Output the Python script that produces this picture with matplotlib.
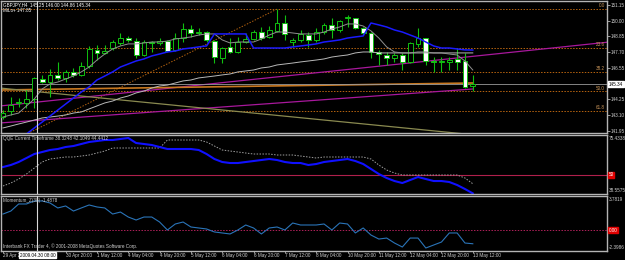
import numpy as np
import matplotlib
matplotlib.use('Agg')
from matplotlib import pyplot as plt
from matplotlib import font_manager
import matplotlib.transforms as mtransforms

# ---------------- data: GBPJPY H4, 61 bars ----------------
opens = [142.95, 143.39, 143.98, 143.98, 144.27, 145.73, 145.51, 146.03, 145.81, 146.24,
         146.03, 146.68, 147.86, 147.64, 148.00, 148.37, 148.73, 148.51, 147.49, 148.44,
         148.37, 148.51, 147.86, 148.73, 149.39, 149.10, 149.17, 148.51, 147.27, 148.08,
         147.71, 148.44, 148.66, 149.17, 148.81, 149.25, 149.83, 148.44, 148.59, 148.95,
         148.59, 149.17, 149.69, 149.32, 150.20, 150.20, 149.47, 149.10, 147.71, 147.49,
         147.27, 147.49, 146.98, 148.30, 148.73, 147.05, 146.98, 146.98, 147.20, 147.05, 145.25]
highs = [143.46, 144.42, 144.34, 144.93, 145.88, 146.03, 146.46, 146.98, 146.39, 146.54,
         146.98, 148.15, 148.22, 148.22, 148.59, 149.10, 148.88, 148.73, 148.59, 148.51,
         148.73, 148.59, 149.10, 149.83, 149.69, 149.47, 149.25, 148.59, 148.08, 148.73,
         148.81, 149.10, 149.32, 149.54, 149.61, 150.85, 150.42, 148.73, 149.32, 149.17,
         149.47, 149.83, 150.20, 150.05, 150.42, 150.20, 149.54, 149.17, 147.86, 147.71,
         147.64, 147.64, 148.44, 149.47, 148.73, 147.34, 147.34, 147.34, 148.00, 147.64, 146.00]
lows = [142.80, 143.10, 143.68, 143.61, 143.61, 145.44, 144.42, 145.66, 145.51, 145.88,
        145.95, 146.54, 147.12, 147.56, 147.86, 148.22, 148.44, 147.27, 147.42, 147.71,
        148.22, 147.71, 147.78, 148.44, 148.81, 148.95, 148.44, 146.90, 146.90, 147.64,
        147.64, 148.37, 148.59, 148.59, 148.73, 149.17, 148.59, 148.08, 148.44, 148.08,
        148.44, 149.03, 148.73, 149.17, 149.54, 149.39, 148.95, 147.27, 146.76, 146.76,
        146.98, 146.39, 146.90, 148.08, 146.76, 146.24, 146.24, 146.39, 146.39, 145.07, 144.86]
closes = [143.24, 143.83, 144.05, 144.27, 145.81, 145.51, 146.03, 145.81, 146.24, 146.03,
          146.68, 147.93, 147.64, 147.78, 148.44, 148.73, 148.59, 147.49, 148.44, 148.37,
          148.51, 147.78, 148.73, 149.39, 149.10, 149.17, 148.59, 147.34, 148.00, 147.71,
          148.44, 148.66, 149.17, 148.73, 149.32, 149.83, 149.03, 148.59, 149.03, 148.59,
          149.17, 149.69, 149.32, 149.98, 150.27, 149.47, 149.10, 147.71, 147.56, 147.27,
          147.49, 146.98, 148.37, 148.73, 147.05, 146.98, 147.05, 147.12, 146.98, 145.15, 145.34]

milo_line = [140.39, 140.83, 141.27, 141.71, 142.15, 142.58, 143.02, 143.46, 143.90, 144.34,
             144.78, 145.15, 145.66, 145.95, 146.25, 146.61, 146.83, 147.05, 147.20, 147.42,
             147.56, 147.71, 147.78, 147.93, 148.00, 148.08, 148.15, 149.03, 149.03, 149.03,
             149.03, 149.03, 148.00, 148.00, 148.00, 148.00, 148.00, 148.08, 148.15, 148.22,
             148.30, 148.44, 148.51, 148.59, 148.73, 148.81, 148.88, 149.83, 149.69, 149.54,
             149.32, 149.17, 148.95, 148.73, 148.44, 148.15, 148.00, 148.00, 147.93, 147.86, 147.85]
ma_fast = [142.95, 143.10, 143.24, 143.76, 144.27, 145.00, 145.37, 145.51, 145.73, 145.95,
           146.25, 146.61, 147.12, 147.56, 147.93, 148.15, 148.30, 148.30, 148.37, 148.44,
           148.44, 148.51, 148.66, 148.73, 148.81, 148.95, 149.03, 149.03, 148.59, 148.37,
           148.44, 148.44, 148.44, 148.66, 148.95, 149.17, 149.17, 149.10, 149.03, 149.03,
           149.03, 149.17, 149.39, 149.54, 149.76, 149.76, 149.61, 149.25, 148.73, 148.08,
           147.71, 147.64, 147.64, 147.71, 147.71, 147.64, 147.64, 147.56, 147.49, 147.05, 146.39]
ma_slow = [142.15, 142.29, 142.44, 142.58, 142.73, 142.88, 142.95, 143.02, 143.10, 143.24,
           143.32, 143.54, 143.76, 143.98, 144.12, 144.34, 144.49, 144.71, 144.85, 145.07,
           145.22, 145.29, 145.44, 145.59, 145.66, 145.81, 145.88, 145.95, 146.03, 146.10,
           146.25, 146.32, 146.39, 146.54, 146.61, 146.76, 146.83, 146.90, 146.98, 147.05,
           147.12, 147.20, 147.34, 147.42, 147.49, 147.64, 147.71, 147.71, 147.64, 147.64,
           147.64, 147.64, 147.64, 147.64, 147.64, 147.64, 147.64, 147.64, 147.64, 147.64, 147.64]

qqe_fast = [55.08, 56.35, 58.26, 60.80, 63.35, 64.62, 65.89, 66.53, 67.80, 68.43,
            69.71, 70.98, 71.61, 72.25, 72.25, 72.89, 73.52, 70.34, 69.71, 69.07,
            67.80, 66.53, 66.53, 66.53, 66.53, 65.89, 63.35, 60.17, 58.26, 57.62,
            57.62, 58.26, 58.89, 59.53, 60.17, 59.53, 58.26, 57.62, 57.62, 56.35,
            56.99, 58.26, 58.89, 59.53, 60.17, 58.89, 56.99, 53.81, 50.63, 48.08,
            46.17, 44.90, 46.81, 48.72, 47.45, 46.17, 46.17, 45.54, 43.63, 41.09, 38.32]
qqe_slow = [43.02, 44.90, 47.45, 50.63, 54.44, 58.26, 60.17, 60.80, 61.44, 61.44,
            62.07, 62.71, 63.98, 65.25, 67.16, 67.16, 67.16, 67.16, 67.16, 67.16,
            67.16, 72.25, 72.25, 72.25, 72.25, 72.25, 70.98, 68.43, 65.89, 65.25,
            64.62, 63.98, 63.35, 63.35, 63.35, 62.71, 62.71, 62.71, 62.07, 61.44,
            60.80, 61.44, 61.44, 61.44, 61.44, 61.44, 61.44, 60.17, 56.35, 53.17,
            51.26, 49.99, 49.99, 49.99, 49.99, 49.99, 49.99, 49.99, 49.99, 48.08, 44.44]
momentum = [1.79, 2.12, 2.90, 2.90, 3.23, 3.23, 3.01, 2.46, 2.68, 2.12,
            2.46, 2.79, 2.57, 2.46, 1.79, 2.01, 1.46, 1.13, 1.46, 1.46,
            0.91, 0.03, 0.69, 0.91, 0.36, 0.25, 0.14, -0.19, -0.30, -0.41,
            0.03, 0.58, 0.25, -0.41, 0.25, 0.36, 0.03, 0.80, 0.58, 0.58,
            0.58, 0.69, 0.03, 0.80, 0.69, -0.30, 0.25, -0.53, -0.97, -0.86,
            -1.41, -1.85, -0.86, -0.86, -1.96, -1.63, -1.30, -0.30, -0.30, -1.41, -1.49]

# bar 4 label sits under the crosshair date box, so it is left blank
time_ticks = list(range(0, 61, 4))
time_labels = ['29 Apr 2009', '', '30 Apr 20:00', '1 May 12:00', '4 May 04:00',
               '4 May 20:00', '5 May 12:00', '6 May 04:00', '6 May 20:00', '7 May 12:00',
               '8 May 04:00', '10 May 20:00', '11 May 12:00', '12 May 04:00', '12 May 20:00',
               '13 May 12:00']
price_ticks = [151.15, 150.00, 148.85, 147.70, 146.55, 144.25, 143.10, 141.95]
last_price = 145.34

fib_levels = [0.0, 23.6, 38.2, 50.0, 61.8]
fib_high = 150.85
fib_low = 138.83
fib_bars = [-7, 35]

# trend lines drawn on the chart: anchor bars, anchor prices
tl_magenta_up = ([0, 60], [143.78, 147.39])
tl_magenta_lo = ([0, 60], [142.53, 145.00])
tl_orange = ([0, 60], [144.93, 145.44])
tl_olive = ([0, 56], [145.05, 141.88])

crosshair_bar = 4.4

# ---------------- style ----------------
names = {f.name for f in font_manager.fontManager.ttflist}
FONT = 'Liberation Sans Narrow' if 'Liberation Sans Narrow' in names else 'Liberation Sans'
plt.rcParams['font.family'] = [FONT, 'DejaVu Sans']
FS = 3.3
GRID = '#b4b4b4'
TXT = '#d0d0d0'
GREEN = '#10c010'

W, H = 625, 260
fig = plt.figure(figsize=(W / 100, H / 100), dpi=100, facecolor='black')


def pane(top, bottom):
    ax = fig.add_axes([1 / W, 1 - bottom / H, 606 / W, (bottom - top) / H])
    ax.set_facecolor('black')
    for s in ax.spines.values():
        s.set_color(GRID)
        s.set_linewidth(1.0)
    ax.set_xlim(-0.255, 77.14)
    ax.set_xticks([])
    ax.set_yticks([])
    return ax


def line_at(anchor, x):
    bx, py = anchor
    k = (py[1] - py[0]) / (bx[1] - bx[0])
    return [py[0] + k * (xx - bx[0]) for xx in x]


bars = np.arange(len(opens))
ax = pane(1, 133)
ax_q = pane(135, 194)
ax_m = pane(196, 251)
ax.set_ylim(141.78, 151.44)
ax_q.set_ylim(37.92, 75.43)
ax_m.set_ylim(-2.29, 3.78)

# fibonacci levels
rng = fib_high - fib_low
for lv in fib_levels:
    p = fib_high - rng * lv / 100
    ax.axhline(p, color='#b8640f', lw=0.7, ls=(0, (1.5, 1.5)), zorder=1)
    ax.text(76.9, p + 0.05, '%.1f' % lv, color='#c8955a', fontsize=FS, ha='right', va='bottom')
ax.plot(fib_bars, [fib_low, fib_high], color='#b0600f', lw=0.7, ls=(0, (1.5, 1.5)), zorder=1)

# trend lines
xs_full = [-1, 78]
ax.plot(xs_full, line_at(tl_magenta_up, xs_full), color='#a8189c', lw=0.9, zorder=2)
xs_seg = [-1, 60]
ax.plot(xs_seg, line_at(tl_magenta_lo, xs_seg), color='#a8189c', lw=0.9, zorder=2)
ax.plot(xs_seg, line_at(tl_orange, xs_seg), color='#c87820', lw=1.2, zorder=2)
ax.plot(xs_full, line_at(tl_olive, xs_full), color='#8a8a50', lw=0.9, zorder=2)
ax.axhline(last_price, color='#9a9a9a', lw=0.6, zorder=2)

# candles
o = np.array(opens)
c = np.array(closes)
ax.vlines(bars, lows, highs, color=GREEN, lw=0.8, zorder=3)
bull = c >= o
ax.bar(bars[bull], c[bull] - o[bull], bottom=o[bull], width=0.62,
       color='black', edgecolor=GREEN, linewidth=0.7, zorder=4)
ax.bar(bars[~bull], c[~bull] - o[~bull], bottom=o[~bull], width=0.62,
       color='white', edgecolor=GREEN, linewidth=0.7, zorder=4)

# indicators
ax.plot(bars, ma_slow, color='#b8b8b8', lw=0.7, zorder=5)
ax.plot(bars, ma_fast, color='#909090', lw=0.7, zorder=5)
ax.plot(bars, milo_line, color='#1a1aff', lw=1.1, zorder=5)

# price axis
ax.yaxis.tick_right()
ax.set_yticks(price_ticks)
ax.set_yticklabels(['%.2f' % v for v in price_ticks])
ax.tick_params(axis='y', length=2, width=0.6, color=GRID, labelcolor=TXT, labelsize=FS, pad=0.8)
ax.text(1.003, last_price, '%.2f' % last_price,
        transform=mtransforms.blended_transform_factory(ax.transAxes, ax.transData),
        fontsize=FS, color='black', ha='left', va='center',
        bbox=dict(boxstyle='square,pad=0.12', fc='white', ec='white'), clip_on=False, zorder=10)

# QQE
ax_q.axhline(50, color='#b0204c', lw=0.8)
ax_q.plot(bars, qqe_slow, color='#a0a0a0', lw=0.7, ls=(0, (1.5, 1.5)))
ax_q.plot(bars, qqe_fast, color='#1010ff', lw=1.5)
ax_q.text(1.003, 50, '50', transform=mtransforms.blended_transform_factory(ax_q.transAxes, ax_q.transData),
          fontsize=FS, color='white', ha='left', va='center',
          bbox=dict(boxstyle='square,pad=0.12', fc='#e00000', ec='#e00000'), clip_on=False)

# Momentum
ax_m.axhline(0, color='#b0205a', lw=0.7, ls=(0, (1.5, 1.5)))
ax_m.plot(bars, momentum, color='#2a74b8', lw=0.8)
ax_m.text(1.003, 0, '0.00', transform=mtransforms.blended_transform_factory(ax_m.transAxes, ax_m.transData),
          fontsize=FS, color='white', ha='left', va='center',
          bbox=dict(boxstyle='square,pad=0.12', fc='#e00000', ec='#e00000'), clip_on=False)

# time axis
ax_m.set_xticks(time_ticks)
ax_m.set_xticklabels(time_labels, ha='left')
ax_m.tick_params(axis='x', length=1.5, width=0.6, color=GRID, labelcolor=TXT, labelsize=FS, pad=0.3)

# crosshair
for a in (ax, ax_q, ax_m):
    a.axvline(crosshair_bar, color='#d8d8d8', lw=0.8, zorder=8)
ax_m.text(crosshair_bar, -0.075, '2009.04.30 08:00',
          transform=mtransforms.blended_transform_factory(ax_m.transData, ax_m.transAxes),
          fontsize=FS, color='black', ha='center', va='center',
          bbox=dict(boxstyle='square,pad=0.15', fc='white', ec='white'), clip_on=False, zorder=10)


# texts in pixel positions
def ftext(x, y, s, **kw):
    fig.text(x / W, 1 - y / H, s, fontsize=FS, color=kw.pop('color', TXT), va='center', **kw)


ftext(3, 4.5, 'GBPJPY,H4  145.25 146.00 144.86 145.34', color='white')
ftext(3, 10.5, 'MiLo+ 147.85', color='white')
ftext(3, 138.5, 'QQE Current Timeframe 38.3248 42.1049 44.4412')
ftext(3, 200.5, 'Momentum_Z(38) -1.4878')
ftext(3, 246, 'Interbank FX Trader 4, \u00a9 2001-2008 MetaQuotes Software Corp.')
ftext(609, 138, '75.4338')
ftext(609, 191, '38.5575')
ftext(609, 199.5, '3.7819')
ftext(609, 247.5, '-2.3986')

fig.savefig('out.png', dpi=100, facecolor='black')
